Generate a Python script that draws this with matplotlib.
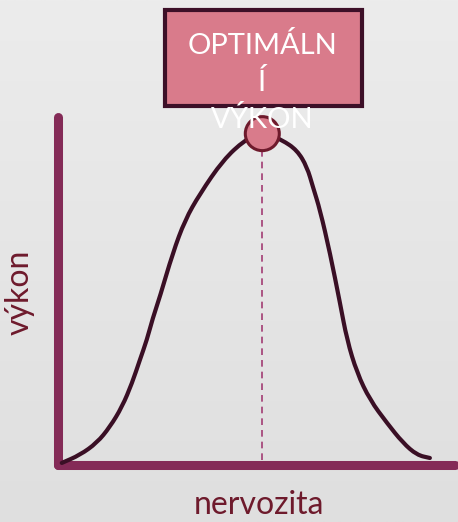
import numpy as np
import matplotlib.pyplot as plt
from matplotlib.colors import LinearSegmentedColormap
from matplotlib.patches import Rectangle, Ellipse, PathPatch
from matplotlib.path import Path

# curve (nervozita 0-100, vykon 0-100)
nervozita = [0.5, 5.4, 10.0, 13.5, 16.8, 19.5, 21.6, 23.5, 25.1, 27.0, 30.5, 33.8,
             37.8, 44.1, 50.0, 54.6, 60.0, 64.1, 66.8, 68.4, 70.3, 73.0, 75.7,
             77.6, 80.3, 83.8, 88.4, 92.7, 96.5, 100.0]
vykon = [0.0, 2.4, 6.1, 10.9, 17.0, 24.2, 31.2, 37.3, 43.9, 50.3, 63.6, 73.6,
         81.5, 91.8, 97.9, 100.6, 97.9, 94.8, 89.7, 83.6, 76.7, 63.6, 48.5,
         37.3, 27.3, 19.1, 12.1, 6.1, 2.4, 1.5]
optimum_x = 54.7
optimum_y = 99.8
box_label = "OPTIMÁLN\nÍ\nVÝKON"
x_label = "nervozita"
y_label = "výkon"

plt.rcParams['font.family'] = ['Lato', 'DejaVu Sans']

fig = plt.figure(figsize=(4.58, 5.22), dpi=100)
ax = fig.add_axes([0, 0, 1, 1])
ax.set_xlim(-16.2, 107.6)
ax.set_ylim(-17.9, 140.3)
ax.axis('off')

# light gray gradient background
grad = np.linspace(0, 1, 256).reshape(-1, 1)
ax.imshow(grad, extent=(-16.2, 107.6, -17.9, 140.3), aspect='auto',
          cmap=LinearSegmentedColormap.from_list('bg', ['#dfdfdf', '#ececec']),
          origin='lower', zorder=0)

axis_c = '#842b57'
ax.plot([-0.5, -0.5], [-0.6, 104.8], color=axis_c, lw=6.5, solid_capstyle='round', zorder=2)
ax.plot([-0.5, 106.8], [-0.6, -0.6], color=axis_c, lw=6.5, solid_capstyle='round', zorder=2)

# smooth curve: quadratic segments through midpoints of the read points
pts = np.column_stack([nervozita, vykon])
verts = [pts[0], (pts[0] + pts[1]) / 2]
codes = [Path.MOVETO, Path.LINETO]
for i in range(1, len(pts) - 1):
    verts += [pts[i], (pts[i] + pts[i + 1]) / 2]
    codes += [Path.CURVE3, Path.CURVE3]
verts.append(pts[-1])
codes.append(Path.LINETO)
ax.add_patch(PathPatch(Path(verts, codes), fill=False, edgecolor='#3a0f25', lw=3,
                       capstyle='round', joinstyle='round', zorder=3))

ax.plot([optimum_x, optimum_x], [0.9, 94.2], color='#a23c73', lw=1.2,
        dashes=(4, 3), zorder=2)

ax.add_patch(Ellipse((optimum_x, optimum_y), 2 * 17 / 3.7, 2 * 17 / 3.3,
                     facecolor='#d97b8b', edgecolor='#6e1a2c', lw=2.2, zorder=4))

# box with label
ax.add_patch(Rectangle((28.4, 108.2), 53.2, 29.1, facecolor='#d97b8b',
                       edgecolor='#3d1028', lw=3, zorder=4))
ax.text(optimum_x, 115.3, box_label, color='white', fontsize=21, ha='center',
        va='center', linespacing=1.45, zorder=5)

ax.text(-10.8, 51.8, y_label, color='#6e1a2c', fontsize=23, rotation=90,
        ha='center', va='center', zorder=5)
ax.text(53.8, -12.6, x_label, color='#6e1a2c', fontsize=23, ha='center',
        va='center', zorder=5)

plt.savefig('out.png', dpi=100)
